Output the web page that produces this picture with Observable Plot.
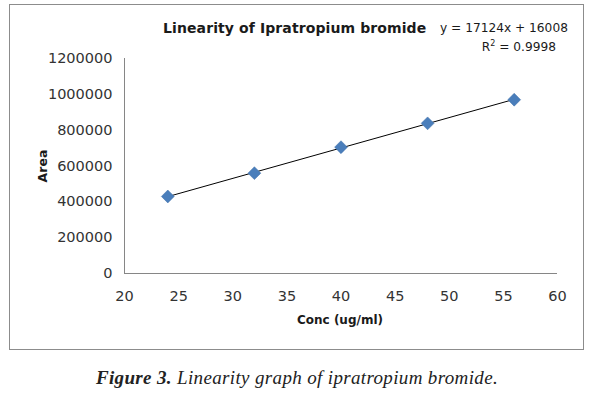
<!DOCTYPE html>
<html><head><meta charset="utf-8">
<script src="https://cdn.jsdelivr.net/npm/d3@7"></script>
<script src="https://cdn.jsdelivr.net/npm/@observablehq/plot@0.6"></script>
<style>
body{margin:0;background:#fff;}
#wrap{position:relative;width:590px;height:395px;background:#fff;overflow:hidden;}
#frame{position:absolute;left:9px;top:4px;width:573px;height:344px;border:1px solid #8c8c8c;box-sizing:content-box;}
.t{position:absolute;white-space:nowrap;color:#1a1a1a;font-family:"DejaVu Sans",sans-serif;}
#chart{position:absolute;left:0;top:0;}
</style></head>
<body><div id="wrap"><div id="frame"></div><div id="chart"></div>
<div class="t" id="title" style="left:163px;top:20px;font-size:14px;font-weight:bold;letter-spacing:0.1px;">Linearity of Ipratropium bromide</div>
<div class="t" id="eq1" style="left:440px;top:21px;font-size:12.2px;"></div>
<div class="t" id="eq2" style="right:34px;top:39px;font-size:12.2px;"></div>
<div class="t" id="ylab" style="left:42px;top:166px;font-size:12.5px;font-weight:bold;transform:translate(-50%,-50%) rotate(-90deg);">Area</div>
<div class="t" id="xlab" style="left:340px;top:320px;font-size:12px;font-weight:bold;transform:translate(-50%,-50%);">Conc (ug/ml)</div>
<div class="t" id="cap" style="left:297px;top:378px;font-size:19px;letter-spacing:0.35px;font-family:'Liberation Serif',serif;font-style:italic;color:#222;transform:translate(-50%,-50%);"><b>Figure 3.</b> Linearity graph of ipratropium bromide.</div>
</div>
<script>
const conc = [24, 32, 40, 48, 56];
const area = [430000, 560000, 705000, 838000, 970000];
const xTicks = [20, 25, 30, 35, 40, 45, 50, 55, 60];
const yTicks = [0, 200000, 400000, 600000, 800000, 1000000, 1200000];
const equationText = "y = 17124x + 16008";
const r2Base = "R";
const r2Rest = " = 0.9998";

document.getElementById("eq1").textContent = equationText;
document.getElementById("eq2").innerHTML = r2Base + '<sup style="font-size:8px;vertical-align:5px">2</sup>' + r2Rest;

const data = conc.map((c, i) => ({conc: c, area: area[i]}));

const chart = Plot.plot({
  width: 590,
  height: 355,
  marginLeft: 124,
  marginRight: 33,
  marginTop: 58,
  marginBottom: 82,
  style: {fontFamily: "DejaVu Sans, sans-serif", fontSize: "14.5px", color: "#333", background: "transparent"},
  x: {domain: [20, 60]},
  y: {domain: [0, 1200000]},
  marks: [
    Plot.ruleY([0], {stroke: "#868686", strokeWidth: 1}),
    Plot.ruleX([20], {stroke: "#868686", strokeWidth: 1}),
    Plot.axisX({ticks: xTicks, tickSize: 0, tickPadding: 17, label: null, tickFormat: d => String(d), fill: "#333"}),
    Plot.axisY({ticks: yTicks, tickSize: 0, tickPadding: 12, label: null, tickFormat: d => String(d), fill: "#333"}),
    Plot.linearRegressionY(data, {x: "conc", y: "area", ci: 0, stroke: "#000", strokeWidth: 1}),
    Plot.dot(data, {x: "conc", y: "area", symbol: "diamond2", r: 5.8, fill: "#4A7EBB", stroke: "#3f6fa8", strokeWidth: 0.5})
  ]
});
document.getElementById("chart").appendChild(chart);
</script>
</body></html>
